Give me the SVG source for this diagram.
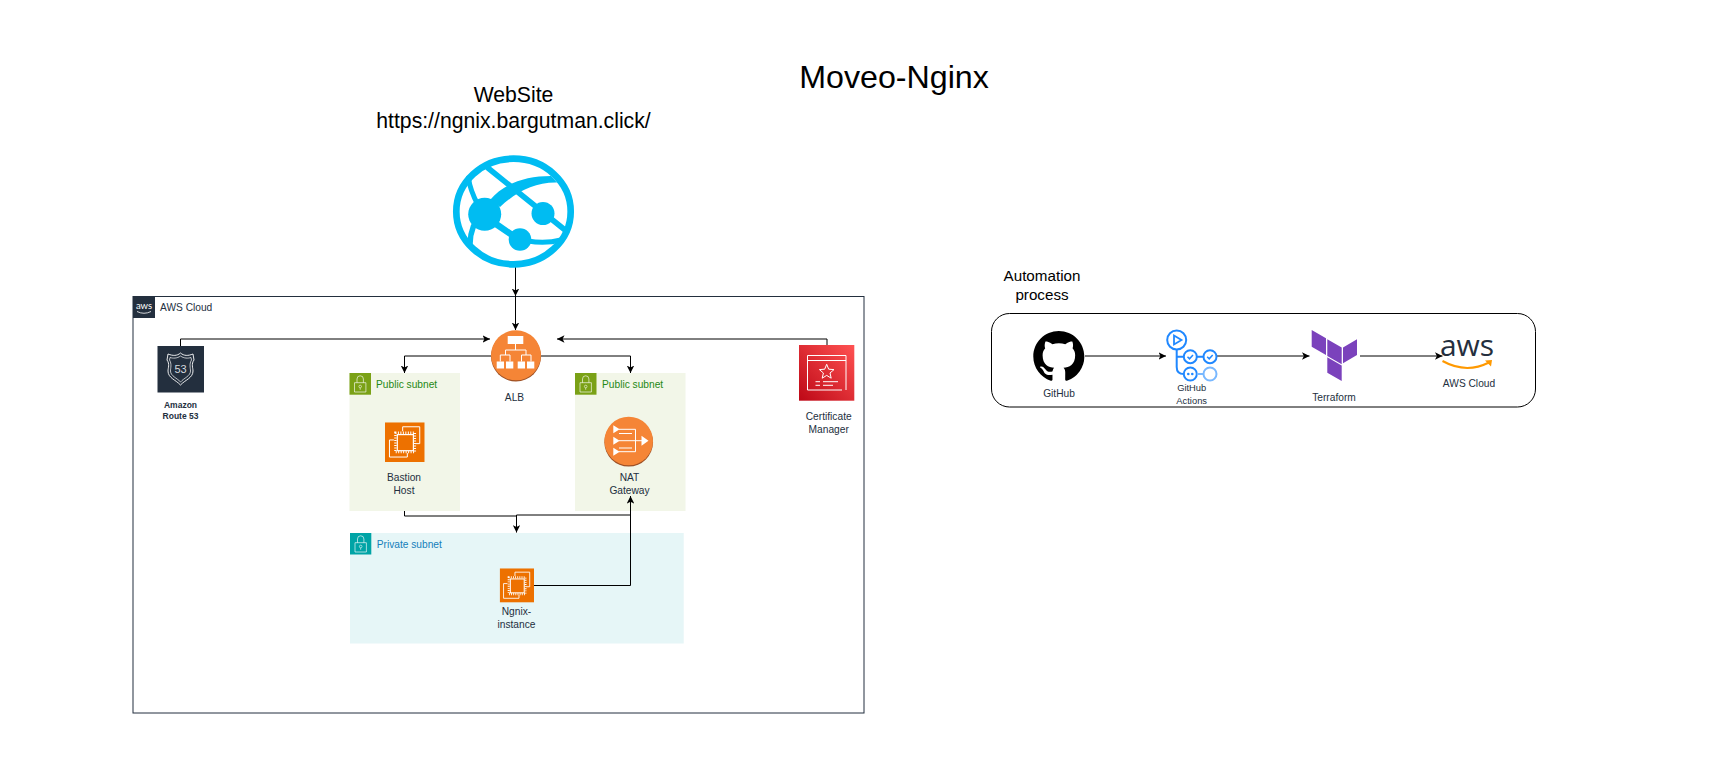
<svg xmlns="http://www.w3.org/2000/svg" width="1719" height="768" viewBox="0 0 1719 768">
<style>
text{font-family:"Liberation Sans",Arial,sans-serif}
.l{font-size:10.2px;fill:#232F3E;text-anchor:middle}
.t{font-size:10.2px}
.big{font-size:21.2px;fill:#000;text-anchor:middle}
.mid{font-size:15.2px;fill:#000;text-anchor:middle}
.c{fill:none;stroke:#000;stroke-width:1}
.cy{fill:none;stroke:#00BCF2;stroke-linecap:round}
.w{fill:none;stroke:#fff;stroke-width:1}
.wf{fill:#fff}
.gha{fill:none;stroke:#2088FF;stroke-width:2}
</style>
<defs>
<marker id="a" markerUnits="userSpaceOnUse" viewBox="0 0 8 8" refX="8" refY="4" markerWidth="7.5" markerHeight="7.5" orient="auto"><path d="M8 4L0 0L2 4L0 8Z" fill="#000"/></marker>
<linearGradient id="red" x1="0" y1="1" x2="1" y2="0"><stop offset="0" stop-color="#BD0816"/><stop offset="1" stop-color="#FF5252"/></linearGradient>
<symbol id="ec2" viewBox="0 0 40 40">
<rect width="40" height="40" fill="#ED7100"/>
<path class="w" d="M17.800 9V4.500H35V21.500H30.500"/>
<path class="w" d="M9 17.800H4.500V35H22.500V31"/>
<rect x="10.500" y="10.500" width="19.600" height="19.600" fill="none" stroke="#fff" stroke-width="2.400" stroke-dasharray="1 1.500"/>
<rect x="12.400" y="12.400" width="16.200" height="16.200" fill="#ED7100" stroke="#fff" stroke-width="1.200"/>
</symbol>
<symbol id="lock" viewBox="0 0 22 22">
<path d="M5 9.700H16.400V19H5Z" fill="none" stroke="#fff" stroke-opacity=".7" stroke-width=".9"/>
<path d="M7.500 9.700V6A3.200 3.200 0 0 1 13.900 6V9.700" fill="none" stroke="#fff" stroke-opacity=".7" stroke-width=".9"/>
<circle cx="10.700" cy="13.500" r="1.300" fill="none" stroke="#fff" stroke-opacity=".7" stroke-width=".8"/>
<path d="M10.700 14.800V16.800" stroke="#fff" stroke-opacity=".7" stroke-width=".8"/>
</symbol>
</defs>
<rect width="1719" height="768" fill="#fff"/>

<g id="title"><text x="894" y="87.500" font-size="32.200" text-anchor="middle" fill="#000">Moveo-Nginx</text></g>

<g id="website-label"><text class="big" x="513.500" y="102">WebSite</text><text class="big" x="513.500" y="128">https://ngnix.bargutman.click/</text></g>

<g id="aws-cloud">
<rect x="133" y="296.500" width="731" height="416.500" fill="none" stroke="#232F3E" stroke-width="1"/>
<rect x="133" y="296" width="22" height="22" fill="#232F3E"/>
<text x="144" y="309" font-size="9.500" fill="#fff" text-anchor="middle" style="font-family:Lato,'Liberation Sans',sans-serif">aws</text>
<path d="M137 311.500Q144 315 151 311.500" fill="none" stroke="#fff" stroke-width=".8"/>
<text class="t" x="160" y="311" fill="#232F3E">AWS Cloud</text>
</g>

<g id="public-subnet-left">
<rect x="349.500" y="373" width="110.500" height="138" fill="#F2F6E8"/>
<rect x="349.500" y="373" width="21.500" height="21.700" fill="#7AA116"/>
<use href="#lock" x="349.500" y="373" width="22" height="22"/>
<text class="t" x="376" y="387.500" fill="#248814">Public subnet</text>
</g>
<g id="public-subnet-right">
<rect x="575" y="373" width="110.500" height="138" fill="#F2F6E8"/>
<rect x="575" y="373" width="21.500" height="21.700" fill="#7AA116"/>
<use href="#lock" x="575" y="373" width="22" height="22"/>
<text class="t" x="602" y="387.500" fill="#248814">Public subnet</text>
</g>
<g id="private-subnet">
<rect x="350" y="533" width="333.700" height="110.500" fill="#E6F6F7"/>
<rect x="350" y="533" width="21.300" height="21.500" fill="#00A4A6"/>
<use href="#lock" x="350" y="533" width="22" height="22"/>
<text class="t" x="376.700" y="547.500" fill="#147EBA">Private subnet</text>
</g>

<g id="automation-box">
<rect x="991.500" y="313.500" width="544" height="93.500" rx="18" ry="18" fill="none" stroke="#000" stroke-width="1"/>
<text class="mid" x="1042" y="281">Automation</text>
<text class="mid" x="1042" y="300">process</text>
</g>

<g id="connectors">
<path class="c" marker-end="url(#a)" d="M515.500 267V296"/>
<path class="c" marker-end="url(#a)" d="M515.500 296V330"/>
<path class="c" marker-end="url(#a)" d="M180.500 346V339H490"/>
<path class="c" marker-end="url(#a)" d="M827 345V339H557"/>
<path class="c" marker-end="url(#a)" d="M491 356H404.500V373"/>
<path class="c" marker-end="url(#a)" d="M541 356H630.500V373"/>
<path class="c" marker-end="url(#a)" d="M404.500 511V516H516.500V532.500"/>
<path class="c" d="M630.500 515H516.500V520"/>
<path class="c" marker-end="url(#a)" d="M534 585.500H630.500V496"/>
<path class="c" marker-end="url(#a)" d="M1085 356H1166"/>
<path class="c" marker-end="url(#a)" d="M1217 356H1309.500"/>
<path class="c" marker-end="url(#a)" d="M1360 356H1442.500"/>
</g>

<g id="website">
<ellipse class="cy" cx="513.500" cy="211.500" rx="57.200" ry="52.800" stroke-width="6.700"/>
<path class="cy" d="M488 168L565 230" stroke-width="5.500"/>
<path d="M490 200C503 184 525 176 551 176L557 182.500C535 182 516 192 500 207Z" fill="#00BCF2"/>
<path class="cy" d="M468.500 178Q470 190 478 205" stroke-width="5"/>
<path class="cy" d="M473.500 226Q470 235 470 244" stroke-width="5.500"/>
<path class="cy" d="M496 224L512 235" stroke-width="6.500"/>
<path class="cy" d="M528 241Q545 244 561 240" stroke-width="5"/>
<circle cx="484.700" cy="214.300" r="16.500" fill="#00BCF2"/>
<circle cx="543" cy="213.500" r="11.500" fill="#00BCF2"/>
<circle cx="520" cy="239.500" r="11.300" fill="#00BCF2"/>
</g>

<g id="route53">
<rect x="157.500" y="346" width="46.500" height="46.500" fill="#232F3E"/>
<path d="M180.500 353C184 356 188 356 193 354L194 360C191 364 193 368 193 371C193 378 185 380 180.500 385C176 380 168 378 168 371C168 368 170 364 167 360L168 354C173 356 177 356 180.500 353Z" fill="none" stroke="#fff" stroke-width=".9"/>
<path d="M180.500 356C184 358.500 188 358.500 191 357.500L191.500 360C189 364 190.500 368 190.500 371C190.500 376 184 378 180.500 382C177 378 170.500 376 170.500 371C170.500 368 172 364 169.500 360L170 357.500C173 358.500 177 358.500 180.500 356Z" fill="none" stroke="#fff" stroke-width=".7"/>
<text x="180.500" y="373" font-size="11" fill="#D5D9DD" text-anchor="middle">53</text>
<text class="l" x="180.500" y="408" style="font-size:8.500px;font-weight:bold">Amazon</text>
<text class="l" x="180.500" y="419" style="font-size:8.500px;font-weight:bold">Route 53</text>
</g>

<g id="alb">
<circle cx="516" cy="356.500" r="25" fill="#9D5025"/>
<circle cx="516" cy="355.300" r="25" fill="#F58536"/>
<rect x="507.700" y="336" width="15.600" height="8" class="wf"/>
<path class="w" d="M515.500 344V350M505.500 355V350H526V355M500.300 361.500V355H510V361.500M521.500 361.500V355H531V361.500" stroke-width="1.200"/>
<rect x="496.700" y="361.500" width="7.300" height="7" class="wf"/>
<rect x="506" y="361.500" width="7.300" height="7" class="wf"/>
<rect x="517.700" y="361.500" width="7.300" height="7" class="wf"/>
<rect x="527" y="361.500" width="7.300" height="7" class="wf"/>
<text class="l" x="514.500" y="401">ALB</text>
</g>

<g id="bastion-host">
<use href="#ec2" x="385" y="422.300" width="39.700" height="39.700"/>
<text class="l" x="404" y="481">Bastion</text>
<text class="l" x="404" y="494">Host</text>
</g>

<g id="nat-gateway">
<circle cx="628.700" cy="442.300" r="24.300" fill="#9D5025"/>
<circle cx="628.700" cy="441" r="24.300" fill="#F58536"/>
<path class="wf" d="M613.300 425.300L619.700 429.300L613.300 433.300ZM613.300 436.700L619.700 440.700L613.300 444.700ZM613.300 447.700L619.700 451.700L613.300 455.700ZM641.500 435.700L648.500 440.700L641.500 445.700Z"/>
<path class="w" d="M619 429.300H635.500V451.700H619M619 440.700H642M619 433.500H632M619 448H632" stroke-width="1.500"/>
<text class="l" x="629.500" y="481">NAT</text>
<text class="l" x="629.500" y="494">Gateway</text>
</g>

<g id="certificate-manager">
<rect x="799" y="345" width="55.300" height="55.700" fill="url(#red)"/>
<path class="w" d="M846 355.500H807.500V390H842M846 355.500V390M807.500 360.500H846" stroke-width="1.200"/>
<path class="w" d="M826.700 364.300L828.700 369.200L834 369.600L830 373L831.200 378.200L826.700 375.400L822.200 378.200L823.400 373L819.400 369.600L824.700 369.200Z" stroke-width="1.200"/>
<path class="w" d="M815.500 381.700H820M823 381.700H838M815.500 385.300H820M823 385.300H833" stroke-width="1.100"/>
<text class="l" x="828.700" y="420">Certificate</text>
<text class="l" x="828.700" y="433">Manager</text>
</g>

<g id="ngnix-instance">
<use href="#ec2" x="499.700" y="568.300" width="34.300" height="34.300"/>
<text class="l" x="516.500" y="615">Ngnix-</text>
<text class="l" x="516.500" y="628">instance</text>
</g>

<g id="github">
<path transform="translate(1033.300 331) scale(3.190)" fill="#000" d="M8 0C3.580 0 0 3.580 0 8c0 3.540 2.290 6.530 5.470 7.590.4.070.55-.17.55-.38 0-.19-.01-.82-.01-1.490-2.010.37-2.530-.49-2.690-.94-.09-.23-.48-.94-.82-1.130-.28-.15-.68-.52-.01-.53.63-.01 1.080.58 1.230.82.72 1.210 1.870.87 2.330.66.07-.52.28-.87.51-1.070-1.780-.2-3.640-.89-3.640-3.950 0-.87.31-1.590.82-2.150-.08-.2-.36-1.020.08-2.120 0 0 .67-.21 2.200.82.64-.18 1.320-.27 2-.27.68 0 1.360.09 2 .27 1.530-1.040 2.200-.82 2.200-.82.44 1.100.16 1.920.08 2.120.51.56.82 1.270.82 2.150 0 3.070-1.870 3.750-3.650 3.950.29.25.54.73.54 1.480 0 1.070-.01 1.930-.01 2.200 0 .21.15.46.55.38A8.013 8.013 0 0016 8c0-4.420-3.580-8-8-8z"/>
<text class="l" x="1059" y="396.700">GitHub</text>
</g>

<g id="github-actions">
<circle class="gha" cx="1176.700" cy="340" r="9.500"/>
<path d="M1174 335.500L1181.500 340L1174 344.500Z" fill="none" stroke="#2088FF" stroke-width="1.800"/>
<path class="gha" d="M1176.700 349.500V367Q1176.700 374 1183.800 374M1176.700 356.700H1183.800M1196.800 356.700H1203.500"/>
<circle class="gha" cx="1190.300" cy="356.700" r="6.500"/>
<circle class="gha" cx="1210" cy="356.700" r="6.500"/>
<circle class="gha" cx="1190.300" cy="374" r="6.500"/>
<circle cx="1210" cy="374" r="6.500" fill="none" stroke="#79B8FF" stroke-width="2"/>
<path d="M1196.800 374H1203.500" stroke="#79B8FF" stroke-width="2"/>
<path d="M1187.500 356.800L1189.500 358.800L1193 355M1207.200 356.800L1209.200 358.800L1212.700 355" fill="none" stroke="#2088FF" stroke-width="1.500"/>
<circle cx="1188.300" cy="374" r="1.300" fill="#2088FF"/>
<circle cx="1192.300" cy="374" r="1.300" fill="#2088FF"/>
<text class="l" x="1191.700" y="390.700" style="font-size:9.350px">GitHub</text>
<text class="l" x="1191.700" y="404" style="font-size:9.350px">Actions</text>
</g>

<g id="terraform">
<path fill="#7B42BC" d="M1311.700 330L1326 338.300V355L1311.700 346.700ZM1327.300 339.300L1341.700 347.600V364.300L1327.300 356ZM1357 339.300L1343 347.600V363.300L1357 355ZM1327.300 357.300L1341.700 365.600V381L1327.300 372.700Z"/>
<text class="l" x="1334" y="400.700">Terraform</text>
</g>

<g id="aws-logo">
<text x="1467" y="355.700" font-size="30" font-weight="500" fill="#252F3E" text-anchor="middle" style="font-family:'Open Sans','Liberation Sans',sans-serif">aws</text>
<path d="M1442.500 361Q1466 374 1489 362.500" fill="none" stroke="#FF9900" stroke-width="2"/>
<path d="M1485 360.500L1492 360L1491 366.500Z" fill="#FF9900"/>
<text class="l" x="1469" y="387.300">AWS Cloud</text>
</g>
</svg>
